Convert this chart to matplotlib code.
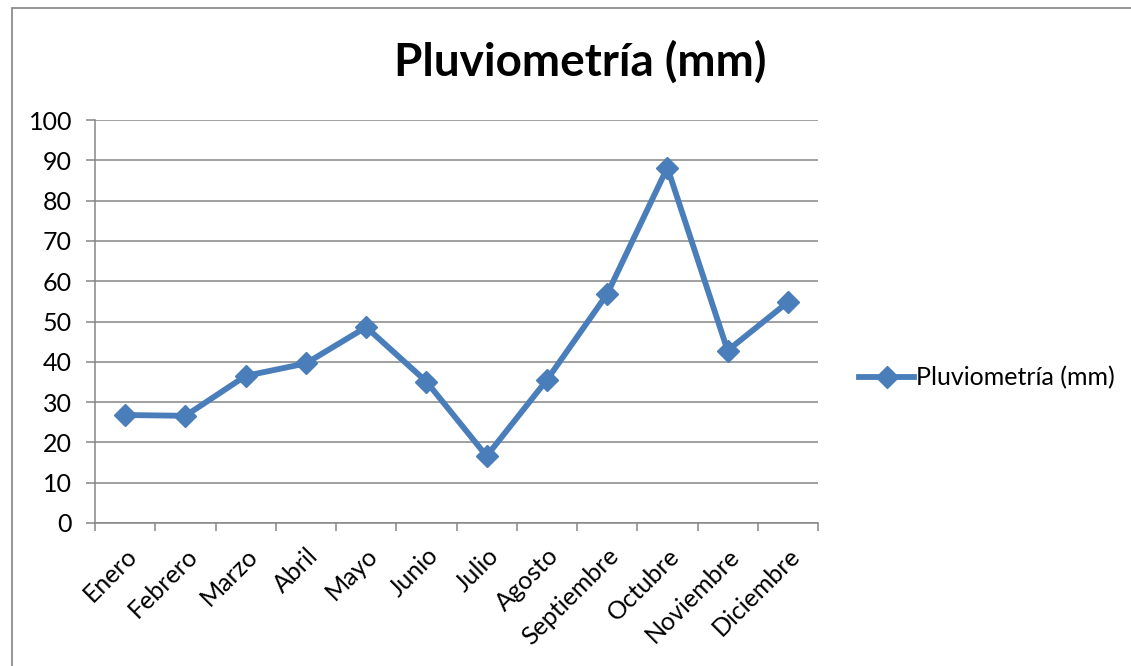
import numpy as np
import matplotlib
matplotlib.use("Agg")
import matplotlib.pyplot as plt
from matplotlib.patches import Rectangle

plt.rcParams['font.family'] = ['Lato', 'DejaVu Sans']

meses = ["Enero", "Febrero", "Marzo", "Abril", "Mayo", "Junio", "Julio",
         "Agosto", "Septiembre", "Octubre", "Noviembre", "Diciembre"]
lluvia = [26.8, 26.6, 36.5, 39.6, 48.6, 35.1, 16.6, 35.5, 56.8, 88.2, 42.8, 54.8]
y_ticks = [0, 10, 20, 30, 40, 50, 60, 70, 80, 90, 100]

azul = "#4A7EBB"
gris = "#868686"

W, H = 1131, 666
fig = plt.figure(figsize=(W / 100, H / 100), dpi=100)
ax = fig.add_axes([95 / W, 1 - 523 / H, (818 - 95) / W, (523 - 120) / H])

x = np.arange(len(meses))
ax.plot(x, lluvia, color=azul, lw=4.2, marker="D", markersize=11,
        label="Pluviometría (mm)", zorder=3)

ax.set_xlim(-0.5, len(meses) - 0.5)
ax.set_ylim(0, 100)
ax.set_yticks(y_ticks)
ax.yaxis.grid(True, color=gris, lw=1.1)
ax.set_axisbelow(True)

# ticks between categories, labels at the centre
ax.set_xticks(x)
ax.set_xticklabels(meses, rotation=45, ha="right", rotation_mode="anchor")
ax.set_xticks(np.arange(len(meses) + 1) - 0.5, minor=True)
ax.tick_params(axis="x", which="major", length=0, pad=15, labelsize=18)
ax.tick_params(axis="x", which="minor", length=6, width=1.1, color=gris)
ax.tick_params(axis="y", length=6.5, width=1.1, color=gris, labelsize=18, pad=10)

for s in ["top", "right"]:
    ax.spines[s].set_visible(False)
for s in ["left", "bottom"]:
    ax.spines[s].set_color(gris)
    ax.spines[s].set_linewidth(1.1)

fig.text(580 / W, 1 - 62 / H, "Pluviometría (mm)", ha="center", va="center",
         fontsize=33, fontweight="bold")

fig.legend(loc="center left", bbox_to_anchor=(849 / W, 1 - 378 / H), frameon=False,
           fontsize=18, handlelength=2.2, handletextpad=0.1, borderaxespad=0)

# chart border (only top and left visible in the crop)
fig.patches.append(Rectangle((12 / W, -0.05), 1.1, 1.05 - 8 / H, transform=fig.transFigure,
                             fill=False, edgecolor="#8c8c8c", lw=1.3))

fig.savefig("out.png", dpi=100)
